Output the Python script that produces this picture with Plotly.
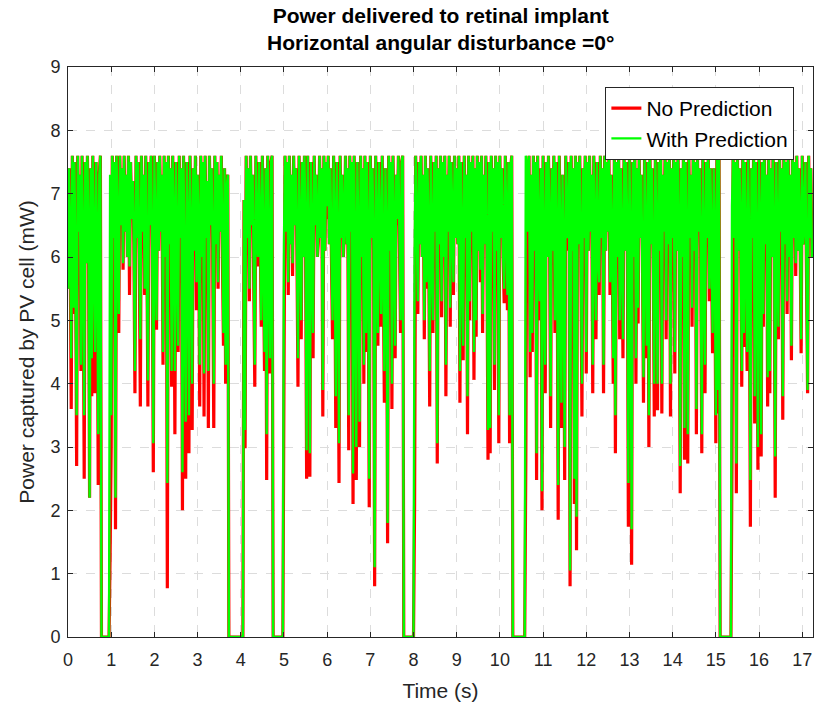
import numpy as np
import plotly.graph_objects as go

DT = 0.025  # sampling interval (s)

# Power captured by PV cell (mW), one row per second of recording
no_prediction = [
    5.5,7.4,6.2,3.6,7.6,5.1,7.5,6.0,2.7,7.6,6.4,7.3,4.2,7.6,6.1,2.5,7.5,5.9,7.6,6.3,2.2,7.4,3.8,7.6,6.0,3.85,7.5,6.2,2.4,7.3,7.6,0,0,0,0,0,0,0,0,1.3,
    3.0,7.6,6.3,7.5,1.7,7.6,6.1,4.8,7.6,6.5,7.4,5.8,7.6,6.4,7.3,6.0,7.6,5.4,7.5,6.6,7.2,6.2,3.85,7.6,6.3,7.5,6.0,3.64,7.6,6.4,7.3,5.4,7.6,6.2,3.64,7.5,6.5,7.6,6.1,2.6,
    7.6,6.3,4.85,7.5,6.1,7.6,6.4,7.3,4.3,7.6,6.0,7.5,0.77,7.6,6.2,7.4,3.95,7.6,6.5,3.2,7.5,6.1,4.5,7.6,6.3,7.4,2.0,7.6,6.0,2.5,7.5,6.4,2.9,7.6,6.2,3.27,7.4,6.1,7.6,5.16,
    7.3,6.4,3.64,7.6,6.0,7.5,3.48,7.6,6.3,7.2,3.3,7.6,6.5,7.4,6.1,3.3,7.6,6.2,7.5,5.5,7.3,6.4,7.6,6.0,4.6,7.4,4.0,7.1,7.3,0,0,0,0,0,0,0,0,0,0,0,
    0,0,0,6.9,2.98,7.6,6.3,7.4,5.3,7.6,6.5,7.3,6.0,3.95,7.6,6.2,5.85,7.5,6.4,4.9,7.6,6.1,4.2,7.4,2.48,7.6,6.3,4.16,7.5,7.6,0,0,0,0,0,0,0,0,0,0,
    3.95,7.6,6.4,7.5,5.4,7.6,6.2,7.3,5.7,7.6,6.5,7.4,6.1,3.95,7.6,6.3,4.7,7.5,6.0,7.6,6.4,2.5,7.6,6.2,2.53,7.5,6.1,4.4,7.6,6.5,7.3,6.0,6.27,7.6,6.3,7.4,3.48,7.6,6.1,7.5,
    6.6,7.6,6.2,7.4,6.0,4.7,7.6,6.4,3.3,7.5,6.1,2.43,7.6,6.3,7.3,6.0,6.4,7.6,6.2,7.4,2.95,7.6,6.4,7.5,2.1,7.6,6.1,2.48,7.5,6.3,3.0,7.6,6.0,7.4,4.0,7.6,4.5,7.5,6.2,2.05,
    7.6,6.3,7.4,6.1,0.8,7.6,6.4,4.6,7.5,6.2,4.9,7.6,6.0,3.7,7.4,6.3,1.48,7.6,6.1,7.5,3.6,7.6,6.4,4.4,7.3,6.5,7.6,6.2,4.8,7.5,7.6,0,0,0,0,0,0,0,0,0,
    0,2.1,7.6,6.4,5.1,7.5,6.2,7.6,6.0,7.3,4.7,7.6,5.5,7.4,6.3,3.64,7.6,6.1,4.8,7.5,6.4,7.6,2.74,7.4,6.2,7.6,5.05,7.5,6.0,7.6,3.8,7.3,6.4,7.6,4.9,7.5,6.1,5.4,7.6,6.3,
    7.4,6.2,7.6,3.7,7.5,6.0,4.37,7.6,6.3,7.3,3.2,7.6,5.0,7.5,6.4,7.6,4.06,7.4,4.74,7.6,6.1,7.5,5.6,7.6,4.8,7.3,6.2,7.6,6.0,2.8,7.5,2.9,7.6,6.4,7.4,3.9,7.6,6.1,7.5,3.06,
    7.6,6.3,7.4,6.0,5.27,7.6,6.2,5.16,7.5,3.06,7.4,7.6,0,0,0,0,0,0,0,0,0,0,0,0,2.74,7.5,6.4,7.6,4.1,7.3,4.5,7.6,6.1,7.5,2.48,7.6,6.3,5.0,7.4,2.0,
    7.6,6.2,3.85,7.5,6.0,7.6,6.4,3.3,7.4,6.1,7.6,4.8,7.5,6.3,1.85,7.6,6.2,3.3,7.3,6.0,2.48,7.6,6.4,6.1,7.5,0.8,7.6,6.1,7.4,2.1,7.6,1.37,7.5,6.2,7.6,6.0,3.48,7.4,6.3,7.6,
    4.16,7.5,6.1,7.6,6.4,7.3,3.85,7.6,6.2,4.7,7.5,6.0,5.4,7.6,6.3,7.4,3.85,7.6,6.1,7.5,6.4,7.6,5.4,7.3,6.2,4.0,7.6,2.9,7.5,6.0,7.6,4.7,7.4,6.3,4.4,7.6,6.1,7.5,6.4,1.74,
    7.6,6.2,1.14,7.5,6.0,7.6,4.0,7.4,4.95,7.6,6.3,7.3,6.1,3.7,7.6,6.4,4.4,7.5,3.0,7.6,6.2,7.4,6.0,3.48,7.6,6.3,3.58,7.5,6.1,7.6,3.53,7.3,6.4,7.6,4.7,7.5,6.2,7.6,3.48,7.4,
    6.3,7.6,4.16,7.5,6.1,7.6,6.4,2.27,7.4,6.0,7.6,2.8,7.5,6.2,2.74,7.6,6.3,7.3,4.9,7.6,6.1,7.5,3.2,7.6,6.4,7.4,6.0,2.9,7.6,6.2,3.85,7.5,6.3,7.6,5.3,7.4,6.1,4.48,7.4,6.2,
    3.06,7.6,3.53,7.6,0,0,0,0,0,0,0,0,0,0,0,2.85,7.6,6.3,7.5,2.27,7.6,6.1,7.4,6.4,3.95,7.6,4.58,7.5,6.2,4.2,7.6,6.0,1.74,7.4,6.3,7.6,3.37,7.5,6.1,2.64,
    7.6,6.4,2.85,7.5,4.9,7.6,6.2,7.3,3.64,7.6,3.85,7.4,6.0,7.6,6.3,2.2,7.5,6.1,4.7,7.6,6.4,7.4,3.43,7.6,6.2,7.5,5.1,7.6,6.0,7.3,4.37,7.6,6.3,7.5,5.7,7.6,6.1,7.4,6.4,4.48,
    7.6,6.2,6.3,7.5,6.0,3.85,7.6,6.3,7.4,6.0,6.2,
]

with_prediction = [
    5.5,7.4,6.2,4.4,7.6,5.2,7.5,6.0,3.5,7.6,6.4,7.3,4.3,7.6,6.1,3.5,7.5,5.9,7.6,6.3,2.2,7.4,4.4,7.6,6.0,4.5,7.5,6.2,3.2,7.3,7.6,0,0,0,0,0,0,0,0,7.3,
    3.5,7.6,6.3,7.5,2.2,7.6,6.1,5.1,7.6,6.5,7.4,5.9,7.6,6.4,7.3,6.0,7.6,5.85,7.5,6.6,7.2,6.2,4.2,7.6,6.3,7.5,6.0,4.7,7.6,6.4,7.3,5.5,7.6,6.2,4.05,7.5,6.5,7.6,6.1,3.06,
    7.6,6.3,5.0,7.5,6.1,7.6,6.4,7.3,4.5,7.6,6.0,7.5,2.43,7.6,6.2,7.4,4.2,7.6,6.5,4.2,7.5,6.1,4.6,7.6,6.3,7.4,2.6,7.6,6.0,3.4,7.5,6.4,3.5,7.6,6.2,4.0,7.4,6.1,7.6,5.6,
    7.3,6.4,4.3,7.6,6.0,7.5,4.16,7.6,6.3,7.2,4.2,7.6,6.5,7.4,6.1,4.0,7.6,6.2,7.5,5.6,7.3,6.4,7.6,6.0,4.8,7.4,4.3,7.1,7.3,0,0,0,0,0,0,0,0,0,0,0,
    0,0,0,6.9,3.27,7.6,6.3,7.4,5.5,7.6,6.5,7.3,6.0,4.3,7.6,6.2,6.0,7.5,6.4,5.0,7.6,6.1,4.5,7.4,3.2,7.6,6.3,4.4,7.5,7.6,0,0,0,0,0,0,0,0,0,0,
    6.2,7.6,6.4,7.5,5.6,7.6,6.2,7.3,5.9,7.6,6.5,7.4,6.1,4.4,7.6,6.3,5.0,7.5,6.0,7.6,6.4,2.95,7.6,6.2,2.9,7.5,6.1,4.8,7.6,6.5,7.3,6.0,6.4,7.6,6.3,7.4,3.9,7.6,6.1,7.5,
    6.8,7.6,6.2,7.4,6.0,5.0,7.6,6.4,3.8,7.5,6.1,3.06,7.6,6.3,7.3,6.0,6.5,7.6,6.2,7.4,3.5,7.6,6.4,7.5,2.58,7.6,6.1,3.0,7.5,6.3,3.4,7.6,6.0,7.4,4.3,7.6,4.8,7.5,6.2,2.5,
    7.6,6.3,7.4,6.1,1.1,7.6,6.4,4.8,7.5,6.2,5.1,7.6,6.0,4.2,7.4,6.3,1.8,7.6,6.1,7.5,4.0,7.6,6.4,4.6,7.3,6.6,7.6,6.2,5.0,7.5,7.6,0,0,0,0,0,0,0,0,0,
    0,6.0,7.6,6.4,5.3,7.5,6.2,7.6,6.0,7.3,5.0,7.6,5.6,7.4,6.3,4.2,7.6,6.1,5.0,7.5,6.4,7.6,3.06,7.4,6.2,7.6,5.3,7.5,6.0,7.6,4.3,7.3,6.4,7.6,5.2,7.5,6.1,5.6,7.6,6.3,
    7.4,6.2,7.6,4.2,7.5,6.0,4.6,7.6,6.3,7.3,3.8,7.6,5.3,7.5,6.4,7.6,4.5,7.4,5.0,7.6,6.1,7.5,5.8,7.6,5.1,7.3,6.2,7.6,6.0,3.27,7.5,3.3,7.6,6.4,7.4,4.3,7.6,6.1,7.5,3.5,
    7.6,6.3,7.4,6.0,5.5,7.6,6.2,5.4,7.5,3.5,7.4,7.6,0,0,0,0,0,0,0,0,0,0,0,0,7.6,7.5,6.4,7.6,4.5,7.3,4.8,7.6,6.1,7.5,2.9,7.6,6.3,5.3,7.4,2.3,
    7.6,6.2,4.3,7.5,6.0,7.6,6.4,3.8,7.4,6.1,7.6,5.0,7.5,6.3,2.4,7.6,6.2,3.7,7.3,6.0,3.0,7.6,6.4,6.3,7.5,1.05,7.6,6.1,7.4,2.5,7.6,1.9,7.5,6.2,7.6,6.0,4.0,7.4,6.3,7.6,
    4.5,7.5,6.1,7.6,6.4,7.3,4.3,7.6,6.2,5.0,7.5,6.0,5.6,7.6,6.3,7.4,4.3,7.6,6.1,7.5,6.4,7.6,5.6,7.3,6.2,4.4,7.6,3.5,7.5,6.0,7.6,5.0,7.4,6.3,4.7,7.6,6.1,7.5,6.4,2.43,
    7.6,6.2,1.7,7.5,6.0,7.6,4.4,7.4,5.2,7.6,6.3,7.3,6.1,4.1,7.6,6.4,4.6,7.5,3.5,7.6,6.2,7.4,6.0,4.0,7.6,6.3,4.0,7.5,6.1,7.6,4.0,7.3,6.4,7.6,5.0,7.5,6.2,7.6,4.0,7.4,
    6.3,7.6,4.5,7.5,6.1,7.6,6.4,2.7,7.4,6.0,7.6,3.3,7.5,6.2,3.2,7.6,6.3,7.3,5.2,7.6,6.1,7.5,3.6,7.6,6.4,7.4,6.0,3.2,7.6,6.2,4.3,7.5,6.3,7.6,5.5,7.4,6.1,4.8,7.4,6.2,
    3.5,7.6,3.9,7.6,0,0,0,0,0,0,0,0,0,0,0,6.8,7.6,6.3,7.5,2.74,7.6,6.1,7.4,6.4,4.2,7.6,4.8,7.5,6.2,4.5,7.6,6.0,2.48,7.4,6.3,7.6,3.8,7.5,6.1,3.0,
    7.6,6.4,3.2,7.5,5.1,7.6,6.2,7.3,4.1,7.6,4.2,7.4,6.0,7.6,6.3,2.85,7.5,6.1,4.9,7.6,6.4,7.4,3.8,7.6,6.2,7.5,5.3,7.6,6.0,7.3,4.6,7.6,6.3,7.5,5.9,7.6,6.1,7.4,6.4,4.7,
    7.6,6.2,6.5,7.5,6.0,3.9,7.6,6.3,7.4,6.0,6.2,
]

x_ticks = list(range(0, 18))
y_ticks = list(range(0, 10))

time_s = np.round(np.arange(len(with_prediction)) * DT, 3)

fig = go.Figure()
fig.add_trace(go.Scatter(x=time_s, y=no_prediction, mode="lines", name="No Prediction",
                         line=dict(color="#FF0000", width=3.2)))
fig.add_trace(go.Scatter(x=time_s, y=with_prediction, mode="lines", name="With Prediction",
                         line=dict(color="#00FF00", width=2.4)))

axis_common = dict(
    showline=True, linecolor="#262626", linewidth=1, mirror="ticks",
    ticks="inside", ticklen=5, tickcolor="#262626",
    showgrid=True, gridcolor="#dcdcdc", griddash="dash", gridwidth=1,
    zeroline=False, tickfont=dict(size=18, color="#262626"),
)

fig.update_layout(
    width=817, height=713,
    margin=dict(l=68, r=4, t=67, b=76),
    plot_bgcolor="white", paper_bgcolor="white",
    font=dict(family="Liberation Sans, Arial, sans-serif", color="#262626"),
    xaxis=dict(range=[0, 17.25], tickvals=x_ticks, ticklabelstandoff=6,
               title=dict(text="Time (s)", font=dict(size=21), standoff=14),
               **axis_common),
    yaxis=dict(range=[0, 9], tickvals=y_ticks, ticklabelstandoff=3,
               title=dict(text="Power captured by PV cell (mW)", font=dict(size=21), standoff=10),
               **axis_common),
    legend=dict(x=0.975, y=0.965, xanchor="right", yanchor="top", bgcolor="white",
                bordercolor="#262626", borderwidth=1, font=dict(size=21, color="black"),
                tracegroupgap=0),
    showlegend=True,
    annotations=[dict(
        text="<b>Power delivered to retinal implant</b><br><b>Horizontal angular disturbance =0°</b>",
        x=0.5, xref="paper", xanchor="center", y=1.02, yref="paper", yanchor="bottom",
        showarrow=False, font=dict(size=21, color="black"),
    )],
)

fig.write_html("out.html")
